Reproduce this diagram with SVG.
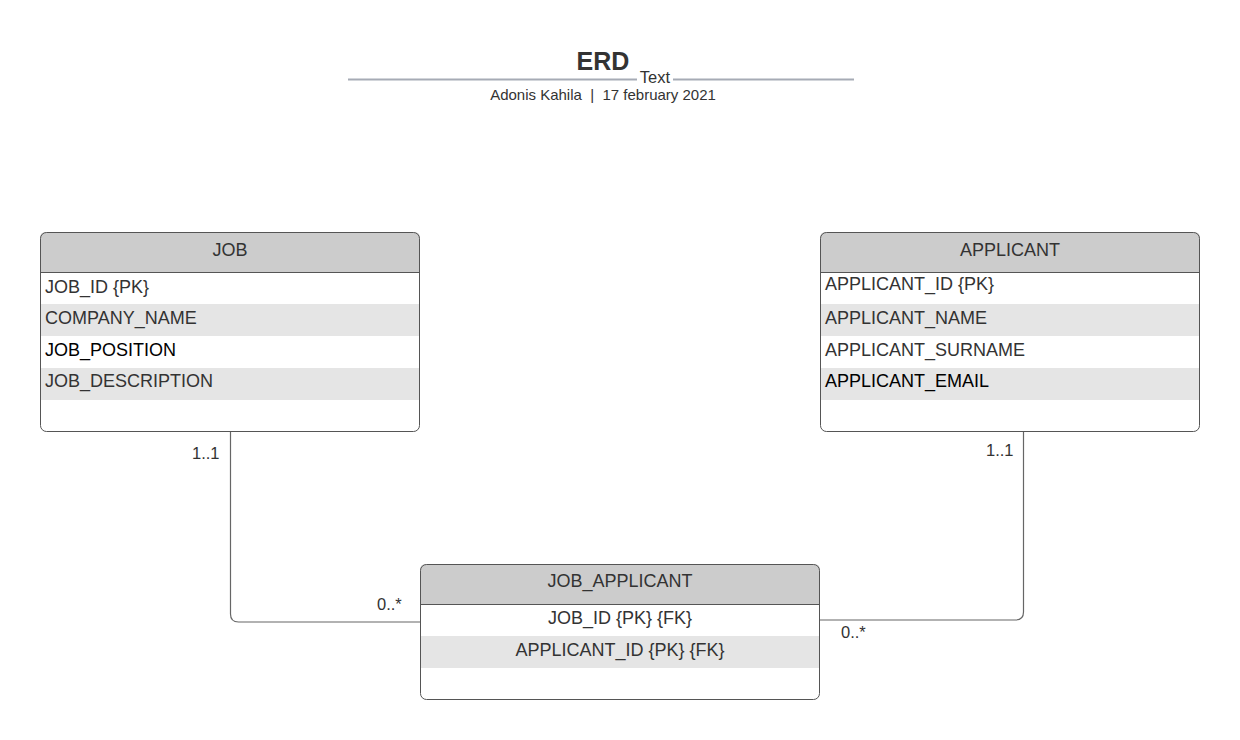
<svg xmlns="http://www.w3.org/2000/svg" width="1240" height="740" viewBox="0 0 1240 740">
<style>
text{font-family:"Liberation Sans",Arial,sans-serif;fill:#333}
.h{font-size:18px;text-anchor:middle}
.r{font-size:18px}
.c{font-size:18px;text-anchor:middle}
.k{fill:#000}
.lbl{font-size:16.5px;fill:#333}
.hd{fill:#cccccc}
.alt{fill:#e5e5e5}
.frame{fill:none;stroke:#555;stroke-width:1}
.sep{stroke:#555;stroke-width:1}
.conn{fill:none;stroke:#666;stroke-width:1.2}
</style>
<rect width="1240" height="740" fill="#fff"/>
<g id="title">
<line x1="348" y1="79.5" x2="854" y2="79.5" stroke="#a6abb5" stroke-width="2"/>
<text x="603" y="69.5" font-size="25" font-weight="bold" text-anchor="middle">ERD</text>
<rect x="637" y="68" width="36" height="18" fill="#fff"/>
<text x="655" y="83" font-size="16.5" text-anchor="middle">Text</text>
<text x="603" y="100" font-size="15" text-anchor="middle" xml:space="preserve">Adonis Kahila  |  17 february 2021</text>
</g>
<g id="connectors">
<path class="conn" d="M230.5 432 V614 Q230.5 622 238.5 622 H420"/>
<path class="conn" d="M1023.5 432 V612 Q1023.5 620 1015.5 620 H820"/>
<text class="lbl" x="192" y="459">1..1</text>
<text class="lbl" x="377" y="610">0..*</text>
<text class="lbl" x="986" y="456">1..1</text>
<text class="lbl" x="841" y="638">0..*</text>
</g>
<g id="job">
<path class="hd" d="M46 232 H414 Q420 232 420 238 V272 H40 V238 Q40 232 46 232 Z"/>
<rect class="alt" x="40.5" y="304" width="379" height="32"/>
<rect class="alt" x="40.5" y="368" width="379" height="32"/>
<line class="sep" x1="40" y1="272.5" x2="420" y2="272.5"/>
<rect class="frame" x="40.5" y="232.5" width="379" height="199" rx="6"/>
<text class="h" x="230" y="255.5">JOB</text>
<text class="r" x="45" y="292.5">JOB_ID {PK}</text>
<text class="r" x="45" y="323.5">COMPANY_NAME</text>
<text class="r k" x="45" y="355.5">JOB_POSITION</text>
<text class="r" x="45" y="387">JOB_DESCRIPTION</text>
</g>
<g id="applicant">
<path class="hd" d="M826 232 H1194 Q1200 232 1200 238 V272 H820 V238 Q820 232 826 232 Z"/>
<rect class="alt" x="820.5" y="304" width="379" height="32"/>
<rect class="alt" x="820.5" y="368" width="379" height="32"/>
<line class="sep" x1="820" y1="272.5" x2="1200" y2="272.5"/>
<rect class="frame" x="820.5" y="232.5" width="379" height="199" rx="6"/>
<text class="h" x="1010" y="255.5">APPLICANT</text>
<text class="r" x="825" y="289.5">APPLICANT_ID {PK}</text>
<text class="r" x="825" y="323.5">APPLICANT_NAME</text>
<text class="r" x="825" y="355.5">APPLICANT_SURNAME</text>
<text class="r k" x="825" y="387">APPLICANT_EMAIL</text>
</g>
<g id="job_applicant">
<path class="hd" d="M426 564 H814 Q820 564 820 570 V604 H420 V570 Q420 564 426 564 Z"/>
<rect class="alt" x="420.5" y="636" width="399" height="32"/>
<line class="sep" x1="420" y1="604.5" x2="820" y2="604.5"/>
<rect class="frame" x="420.5" y="564.5" width="399" height="135" rx="6"/>
<text class="h" x="620" y="587">JOB_APPLICANT</text>
<text class="c" x="620" y="623.5">JOB_ID {PK} {FK}</text>
<text class="c" x="620" y="655.5">APPLICANT_ID {PK} {FK}</text>
</g>
</svg>
